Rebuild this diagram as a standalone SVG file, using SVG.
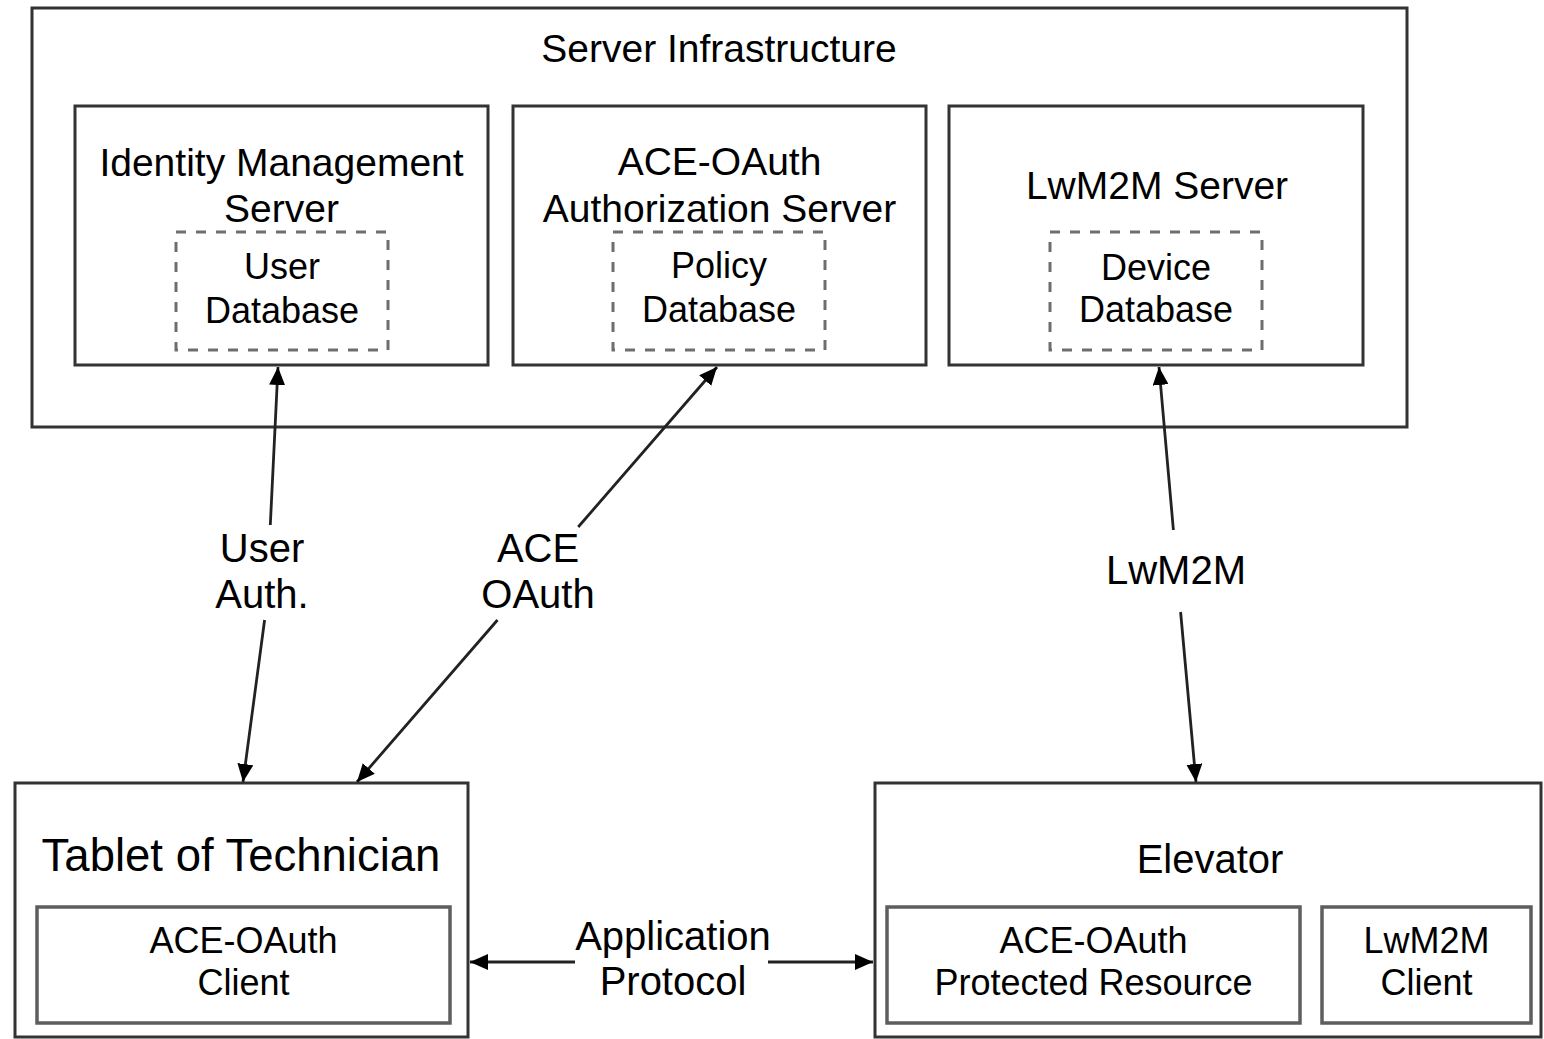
<svg xmlns="http://www.w3.org/2000/svg" width="1544" height="1039" viewBox="0 0 1544 1039">
<style>
  .box { fill: #ffffff; stroke: #333333; stroke-width: 3; }
  .inner { fill: #ffffff; stroke: #5e5e5e; stroke-width: 3.5; }
  .db { fill: none; stroke: #6e6e6e; stroke-width: 3; stroke-dasharray: 10 10; }
  .t { font-family: "Liberation Sans", Arial, sans-serif; fill: #000000; text-anchor: middle; }
  .title { font-size: 39px; }
  .big { font-size: 45.5px; }
  .med { font-size: 40px; }
  .small { font-size: 36px; }
  .conn { fill: none; stroke: #222222; stroke-width: 2.8; marker-start: url(#arrow); marker-end: url(#arrow); }
</style>
<defs>
  <marker id="arrow" markerUnits="userSpaceOnUse" viewBox="0 0 18 16" refX="18" refY="8" markerWidth="18" markerHeight="16" orient="auto-start-reverse">
    <path d="M0,0 L18,8 L0,16 z" fill="#000000"/>
  </marker>
</defs>
<rect width="1544" height="1039" fill="#ffffff"/>

<g id="server-infrastructure">
  <rect class="box" x="32" y="8" width="1375" height="419"/>
  <text class="t title" x="719" y="62">Server Infrastructure</text>
</g>

<g id="identity-management-server">
  <rect class="box" x="75" y="106" width="413" height="259"/>
  <text class="t title" x="281.5" y="176">Identity Management</text>
  <text class="t title" x="281.5" y="222">Server</text>
</g>
<g id="user-database">
  <rect class="db" x="176" y="232" width="212" height="118"/>
  <text class="t small" x="282" y="279">User</text>
  <text class="t small" x="282" y="323">Database</text>
</g>

<g id="authorization-server">
  <rect class="box" x="513" y="106" width="413" height="259"/>
  <text class="t title" x="719.5" y="175">ACE-OAuth</text>
  <text class="t title" x="719.5" y="222">Authorization Server</text>
</g>
<g id="policy-database">
  <rect class="db" x="613" y="232" width="212" height="118"/>
  <text class="t small" x="719" y="278">Policy</text>
  <text class="t small" x="719" y="322">Database</text>
</g>

<g id="lwm2m-server">
  <rect class="box" x="949" y="106" width="414" height="259"/>
  <text class="t title" x="1157" y="199">LwM2M Server</text>
</g>
<g id="device-database">
  <rect class="db" x="1050" y="232" width="212" height="118"/>
  <text class="t small" x="1156" y="280">Device</text>
  <text class="t small" x="1156" y="322">Database</text>
</g>

<g id="tablet">
  <rect class="box" x="15" y="783" width="453" height="254"/>
  <text class="t big" x="241" y="871">Tablet of Technician</text>
</g>
<g id="ace-oauth-client">
  <rect class="inner" x="37" y="907" width="413" height="116"/>
  <text class="t small" x="243.5" y="953">ACE-OAuth</text>
  <text class="t small" x="243.5" y="995">Client</text>
</g>

<g id="elevator">
  <rect class="box" x="875" y="783" width="666" height="254"/>
  <text class="t med" x="1210" y="873">Elevator</text>
</g>
<g id="protected-resource">
  <rect class="inner" x="887" y="907" width="413" height="116"/>
  <text class="t small" x="1093.5" y="953">ACE-OAuth</text>
  <text class="t small" x="1093.5" y="995">Protected Resource</text>
</g>
<g id="lwm2m-client">
  <rect class="inner" x="1322" y="907" width="209" height="116"/>
  <text class="t small" x="1426.5" y="953">LwM2M</text>
  <text class="t small" x="1426.5" y="995">Client</text>
</g>

<g id="connectors">
  <path class="conn" d="M278,367 L270.3,525 M264.6,620 L243,782"/>
  <text class="t med" x="262" y="562">User</text>
  <text class="t med" x="262" y="608">Auth.</text>

  <path class="conn" d="M717,367 L578.2,527 M497.5,620 L357,782"/>
  <text class="t med" x="538" y="562">ACE</text>
  <text class="t med" x="538" y="608">OAuth</text>

  <path class="conn" d="M1159,367 L1173.4,530 M1180.6,612 L1196,782"/>
  <text class="t med" x="1176" y="584">LwM2M</text>

  <path class="conn" d="M470,962 L575,962 M768,962 L873,962"/>
  <text class="t med" x="673" y="950">Application</text>
  <text class="t med" x="673" y="995">Protocol</text>
</g>
</svg>
